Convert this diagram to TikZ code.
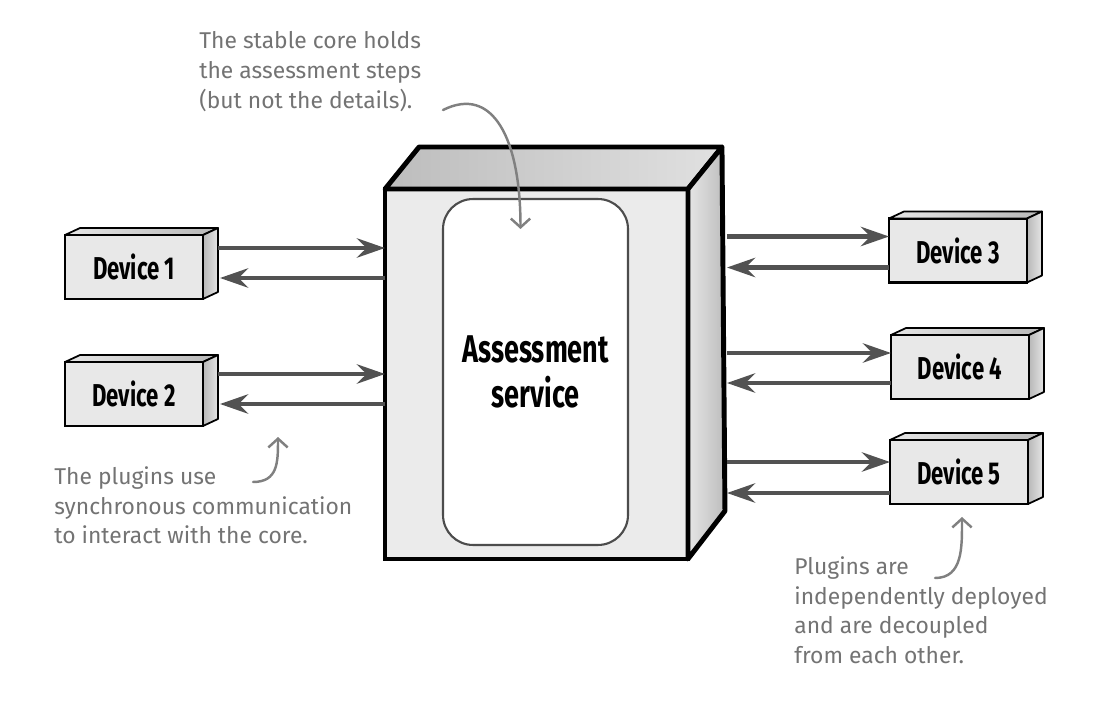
\documentclass[tikz,border=0pt]{standalone}
\usepackage{fontspec}
\setmainfont{Fira Sans}
\newfontfamily\handfont[FakeStretch=0.7]{Fira Sans}
\usetikzlibrary{arrows.meta,calc}

\tikzset{
  device/.style={draw=black, line width=1.2pt, fill=black!9, minimum width=2.76cm, minimum height=1.28cm, outer sep=0pt, font=\handfont\bfseries\fontsize{18}{20}\selectfont},
  devtop/.style={draw=black, line width=1pt, line join=round, left color=black!10, right color=black!28},
  devside/.style={draw=black, line width=1pt, line join=round, left color=black!28, right color=black!10},
  service/.style={draw=black, line width=2.8pt, fill=black!8, minimum width=6.06cm, minimum height=7.4cm, outer sep=0pt},
  servtop/.style={draw=black, line width=2.8pt, line join=round, left color=black!26, right color=black!12},
  servside/.style={draw=black, line width=2.8pt, line join=round, left color=black!10, right color=black!26},
  corebox/.style={draw=black!70, line width=1.2pt, fill=white, rounded corners=0.6cm, minimum width=3.7cm, minimum height=6.92cm, align=center, font=\handfont\bfseries\fontsize{22}{26}\selectfont},
  flow/.style={-{Stealth[length=16pt,width=11pt,inset=5.5pt]}, line width=2.6pt, draw=black!68},
  note/.style={anchor=north west, inner sep=0pt, align=left, text=black!55, font=\fontsize{13}{17}\selectfont},
  remark/.style={-{Straight Barb[length=5pt,width=11pt]}, line width=1.4pt, draw=gray, line cap=round}
}

\begin{document}
\begin{tikzpicture}[x=0.02cm,y=-0.02cm]
\useasboundingbox (0,0) rectangle (1096,706);
\pgfmathsetmacro{\devdx}{15}
\pgfmathsetmacro{\devdy}{7}
\pgfmathsetmacro{\svcdx}{34}
\pgfmathsetmacro{\svcdy}{42}

\node[service] (svc) at (536.5,374) {};
\draw[servtop] (svc.north west) -- ++(\svcdx,-\svcdy) -- ([shift={(\svcdx,-\svcdy)}]svc.north east) -- (svc.north east) -- cycle;
\draw[servside] (svc.north east) -- ++(\svcdx,-\svcdy) -- ([shift={(\svcdx+3,-\svcdy-6)}]svc.south east) -- (svc.south east) -- cycle;
\node[corebox] (steps) at (535.5,372) {Assessment\\service};
\coordinate (rim) at ([xshift=39*0.02cm]svc.east);

\node[device] (d1) at (134,267) {Device 1};
\node[device] (d2) at (134,394) {Device 2};
\node[device] (d3) at (958,250.5) {Device 3};
\node[device] (d4) at (960,367) {Device 4};
\node[device] (d5) at (959,472) {Device 5};

\foreach \d in {d1,d2,d3,d4,d5}{
  \draw[devtop] (\d.north west) -- ++(\devdx,-\devdy) -- ([shift={(\devdx,-\devdy)}]\d.north east) -- (\d.north east) -- cycle;
  \draw[devside] (\d.north east) -- ++(\devdx,-\devdy) -- ([shift={(\devdx,-\devdy)}]\d.south east) -- (\d.south east) -- cycle;
}

\foreach \d/\up/\dn in {d1/-19/11,d2/-20/10}{
  \path (\d.east) ++(15,\up) coordinate (\d out);
  \path (\d.east) ++(17,\dn) coordinate (\d in);
  \draw[flow] (\d out) -- (\d out -| svc.west);
  \draw[flow] (\d in -| svc.west) -- (\d in);
}
\foreach \d/\up/\dn in {d3/-14/17,d4/-14/16,d5/-10/21}{
  \path (\d.west) ++(0,\up) coordinate (\d out);
  \path (\d.west) ++(0,\dn) coordinate (\d in);
  \draw[flow] (\d out -| rim) -- (\d out);
  \draw[flow] (\d in) -- (\d in -| rim);
}

\node[note] (stablenote) at (199,31) {The stable core holds\\the assessment steps\\(but not the details).};
\node[note] (syncnote) at (54,466) {The plugins use\\synchronous communication\\to interact with the core.};
\node[note] (deploynote) at (794,556) {Plugins are\\independently deployed\\and are decoupled\\from each other.};

\coordinate (stabletail) at (443,110);
\coordinate (synctail) at (253,482);
\coordinate (synctip) at (278,437);
\coordinate (deploytail) at (935,578);
\draw[remark] (stabletail) .. controls +(50,-25) and +(0,-90) .. ([shift={(-15,31)}]steps.north);
\draw[remark] (synctail) .. controls +(25,0) and +(0,25) .. (synctip);
\draw[remark] (deploytail) .. controls +(28,0) and +(0,30) .. ([shift={(3,13)}]d5.south);
\end{tikzpicture}
\end{document}
